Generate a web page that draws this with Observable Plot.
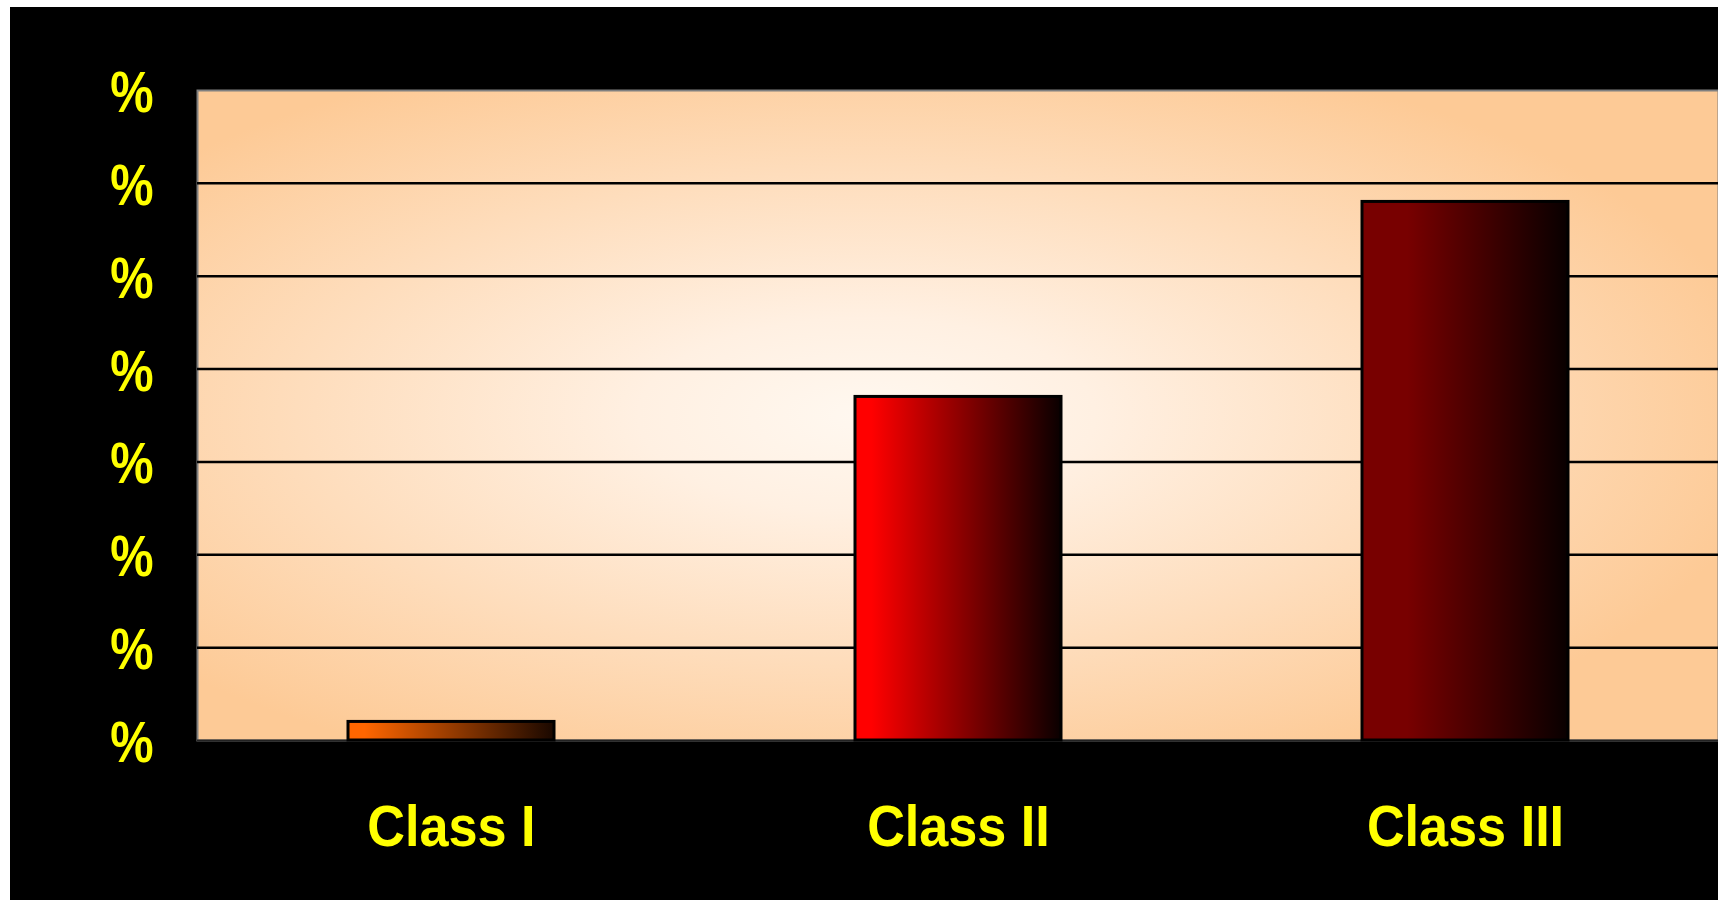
<!DOCTYPE html>
<html>
<head>
<meta charset="utf-8">
<script src="https://cdn.jsdelivr.net/npm/d3@7"></script>
<script src="https://cdn.jsdelivr.net/npm/@observablehq/plot@0.6"></script>
<style>
  html, body { margin: 0; padding: 0; background: #ffffff; }
  #chart { padding-left: 10px; padding-top: 7px; }
</style>
</head>
<body>
<div id="chart"></div>
<script>
// ---- data ----
const categories = ["Class I", "Class II", "Class III"];
const values = [2, 37, 58];
const yTicks = [0, 10, 20, 30, 40, 50, 60, 70];
const yTickLabels = ["%", "%", "%", "%", "%", "%", "%", "%"];

// ---- styles ----
const barColors = ["#ff6600", "#ff0000", "#780000"];
const barSolidTo = [0.08, 0.08, 0.22];
const barEndColors = ["#1a0800", "#0a0000", "#080000"];

const data = categories.map((c, i) => ({cat: c, value: values[i], i}));

const svg = Plot.plot({
  width: 1708,
  height: 893,
  marginLeft: 187,
  marginTop: 83,
  marginRight: 0,
  marginBottom: 160,
  style: {
    background: "black",
    fontFamily: "'Liberation Sans', Arial, sans-serif",
    fontWeight: "bold",
    overflow: "visible"
  },
  x: {domain: categories, paddingInner: 0.594, paddingOuter: 0.297, label: null},
  y: {domain: [0, 70], label: null},
  color: {type: "identity"},
  marks: [
    Plot.frame({fill: "url(#bgGrad)", stroke: "#808080", strokeWidth: 2}),
    Plot.ruleY(yTicks.slice(1, -1), {stroke: "black", strokeWidth: 2.5}),
    Plot.ruleY([0], {stroke: "#222", strokeWidth: 2}),
    Plot.barY(data, {
      x: "cat",
      y: "value",
      fill: d => `url(#barGrad${d.i})`,
      stroke: "black",
      strokeWidth: 3
    }),
    Plot.axisY(yTicks, {
      tickSize: 0,
      tickPadding: 44,
      tickFormat: (d) => yTickLabels[yTicks.indexOf(d)],
      fontSize: 58,
      dy: 3,
      color: "#ffff00",
      label: null
    }),
    Plot.axisX({
      tickSize: 0,
      tickPadding: 64,
      fontSize: 58,
      color: "#ffff00",
      label: null
    })
  ]
});

// slightly condensed glyphs, as in the reference
function condense(sel, k) {
  d3.select(svg).selectAll(sel).each(function() {
    const t = this.getAttribute("transform") || "";
    this.setAttribute("transform", t + ` scale(${k},1)`);
  });
}
condense("[aria-label='y-axis tick label'] text", 0.84);
condense("[aria-label='x-axis tick label'] text", 0.9);

const defs = d3.select(svg).insert("defs", ":first-child");
const bg = defs.append("radialGradient")
  .attr("id", "bgGrad")
  .attr("cx", 0.44).attr("cy", 0.5).attr("r", 0.6)
  .attr("fx", 0.44).attr("fy", 0.5);
bg.append("stop").attr("offset", "0").attr("stop-color", "#fff8f0");
bg.append("stop").attr("offset", "0.25").attr("stop-color", "#fff0e2");
bg.append("stop").attr("offset", "1").attr("stop-color", "#fdca96");

barColors.forEach((c, i) => {
  const g = defs.append("linearGradient")
    .attr("id", `barGrad${i}`)
    .attr("x1", 0).attr("x2", 1).attr("y1", 0).attr("y2", 0);
  g.append("stop").attr("offset", "0").attr("stop-color", c);
  g.append("stop").attr("offset", barSolidTo[i]).attr("stop-color", c);
  g.append("stop").attr("offset", "1").attr("stop-color", barEndColors[i]);
});

document.getElementById("chart").appendChild(svg);
</script>
</body>
</html>
